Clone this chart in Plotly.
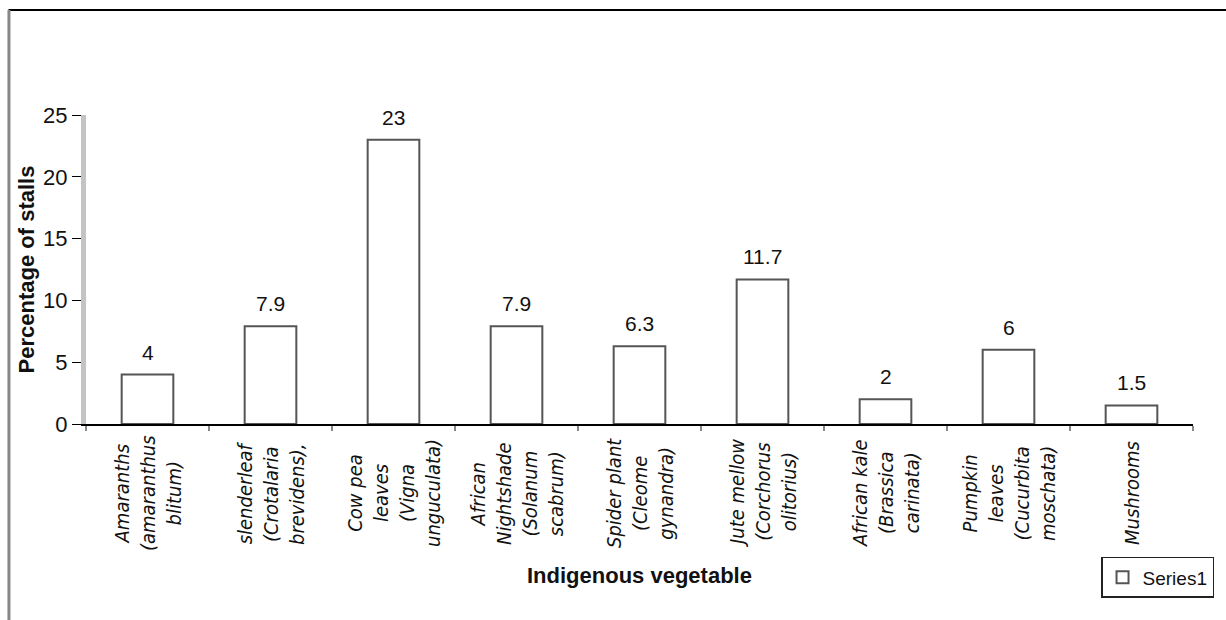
import plotly.graph_objects as go

categories = [
    "Amaranths<br>(amaranthus<br>blitum)",
    "slenderleaf<br>(Crotalaria<br>brevidens),",
    "Cow pea<br>leaves<br>(Vigna<br>unguculata)",
    "African<br>Nightshade<br>(Solanum<br>scabrum)",
    "Spider plant<br>(Cleome<br>gynandra)",
    "Jute mellow<br>(Corchorus<br>olitorius)",
    "African kale<br>(Brassica<br>carinata)",
    "Pumpkin<br>leaves<br>(Cucurbita<br>moschata)",
    "Mushrooms",
]
values = [4, 7.9, 23, 7.9, 6.3, 11.7, 2, 6, 1.5]
value_labels = ["4", "7.9", "23", "7.9", "6.3", "11.7", "2", "6", "1.5"]
y_ticks = [0, 5, 10, 15, 20, 25]
series_name = "Series1"
x_title = "Indigenous vegetable"
y_title = "Percentage of stalls"

FONT = "Arial, Liberation Sans, sans-serif"
NARROW = "Liberation Sans Narrow, Arial Narrow, DejaVu Sans Condensed, Liberation Sans, sans-serif"

fig = go.Figure()
fig.add_trace(go.Bar(
    x=categories, y=values, name=series_name,
    marker=dict(color="white", line=dict(color="#555555", width=2)),
    width=0.42, showlegend=True,
))

annotations = []
for c, v, t in zip(categories, values, value_labels):
    annotations.append(dict(
        x=c, y=v, xref="x", yref="y", text=t, showarrow=False,
        yanchor="bottom", yshift=9, font=dict(family=FONT, size=21, color="#111111"),
    ))
    annotations.append(dict(
        x=c, y=-0.225, xref="x", yref="paper", text=c, showarrow=False,
        textangle=-90, xanchor="center", yanchor="middle", align="center",
        font=dict(family=NARROW, size=20, color="#111111", style="italic"),
    ))
annotations.append(dict(
    x=0.5, y=-0.489, xref="paper", yref="paper", text="<b>" + x_title + "</b>",
    showarrow=False, xanchor="center", yanchor="middle",
    font=dict(family=FONT, size=22, color="#111111"),
))

fig.update_layout(
    width=1226, height=620,
    margin=dict(l=86, r=33, t=115, b=196),
    paper_bgcolor="white", plot_bgcolor="white",
    font=dict(family=FONT, color="#111111"),
    annotations=annotations,
    legend=dict(
        x=1.019, y=-0.43, xanchor="right", yanchor="top",
        bordercolor="#222222", borderwidth=1.5,
        font=dict(family=FONT, size=19, color="#111111"),
        itemwidth=30,
    ),
    shapes=[
        dict(type="line", xref="paper", yref="paper", x0=-0.07, x1=1.1, y0=1.340, y1=1.340,
             line=dict(color="black", width=2)),
        dict(type="line", xref="paper", yref="paper", x0=-0.0696, x1=-0.0696, y0=1.340, y1=-0.65,
             line=dict(color="#888888", width=3)),
    ],
)
fig.update_xaxes(
    range=[-0.5, len(categories) - 0.5],
    showticklabels=False, showgrid=False,
    showline=True, linecolor="black", linewidth=1.5,
    ticks="outside", tickson="boundaries", ticklen=5, tickcolor="#888888", tickwidth=2,
)
fig.update_yaxes(
    range=[0, 25], tickvals=y_ticks, showgrid=False, zeroline=False,
    showline=True, linecolor="#c4c4c4", linewidth=5,
    ticks="outside", ticklen=9, tickcolor="black", tickwidth=1,
    tickfont=dict(family=FONT, size=22, color="#111111"),
    title=dict(text="<b>" + y_title + "</b>", font=dict(family=FONT, size=22, color="#111111"), standoff=4),
)

fig.write_html("out.html", config={"displayModeBar": False},
               post_script="document.body.style.margin='0';document.body.style.overflow='hidden';")
